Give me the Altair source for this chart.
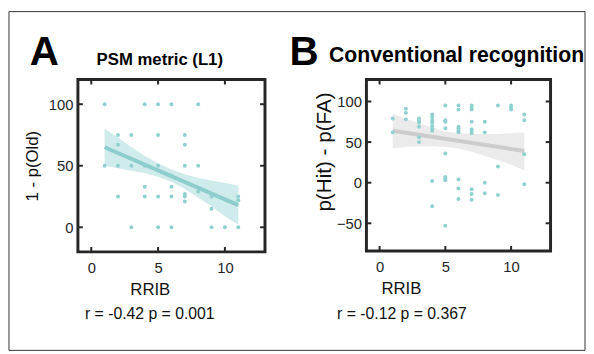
import altair as alt
import pandas as pd

FONT = "Liberation Sans"
DOT = "#8fd1d1"
INK = "#262626"

# ---- Panel A: PSM metric (L1) ----
a_x = [1, 1, 2, 2, 2, 2, 3, 3, 3, 4, 4, 4, 4, 5, 5, 5, 5, 5, 6, 6, 6, 6, 6,
       7, 7, 7, 7, 7, 7, 8, 8, 8, 9, 9, 9, 10, 11, 11, 11]
a_y = [100, 50, 75, 67, 50, 25, 75, 50, 0, 100, 50, 33, 25, 100, 75, 50, 25, 0,
       100, 42, 33, 25, 0, 75, 67, 50, 27, 25, 21, 100, 50, 29, 25, 15, 0, 0,
       25, 22, 0]
a_fit_x = [1, 11]
a_fit_y = [65, 18]
band_x = [1, 2, 3, 4, 5, 6, 7, 8, 9, 10, 11]
a_hi = [80, 73, 65, 58, 52, 47, 43, 40, 38, 36, 34]
a_lo = [50, 48, 46, 44, 41, 37, 31, 24, 17, 9, 2]

# ---- Panel B: Conventional recognition ----
b_x = [1, 1,
       2, 2, 2,
       3, 3, 3, 3, 3, 3,
       4, 4, 4, 4, 4, 4, 4, 4, 4,
       5, 5, 5, 5, 5, 5, 5, 5, 5,
       6, 6, 6, 6, 6, 6, 6, 6, 6,
       7, 7, 7, 7, 7, 7, 7, 7, 7, 7,
       8, 8, 8, 8,
       9, 9, 9,
       10, 10, 10,
       11, 11, 11, 11]
b_y = [79, 62,
       91, 86, 78,
       79, 76, 74, 69, 56, 50,
       84, 81, 77, 74, 70, 67, 64, 2, -29,
       95, 77, 75, 67, 36, 7, 5, 3, -53,
       95, 90, 69, 67, 64, 62, 4, -7, -20,
       95, 92, 90, 75, 66, 64, 61, -8, -14, -21,
       75, 62, 0, -13,
       95, 20, -15,
       95, 92, 90,
       84, 77, 35, -2]
b_fit_x = [1, 11]
b_fit_y = [64, 39]
b_hi = [85, 79, 73, 68, 63, 61, 60, 60, 60, 61, 62]
b_lo = [42, 44, 45, 45, 44, 42, 38, 33, 28, 22, 15]

x_ticks = [0, 5, 10]
a_y_ticks = [0, 50, 100]
b_y_ticks = [-50, 0, 50, 100]


def panel(px, py, fx, fy, lo, hi, xdom, ydom, yt, w, h, band_color, band_op,
          line_color, ytitle, ytitle_size, ytitle_x, ytitle_y, xtitle_x,
          letter, letter_x, title, title_x, title_y, title_size, stats, stats_x,
          frame=False):
    ax_x = alt.Axis(values=x_ticks, domain=False, ticks=False, grid=False,
                    labelFontSize=15, labelPadding=9, labelColor=INK, labelFont=FONT,
                    title="RRIB", titleFontSize=17, titleFontWeight="normal",
                    titleFont=FONT, titleColor="#111", titleX=xtitle_x, titleY=43,
                    titleAlign="center", titleBaseline="alphabetic")
    ax_y = alt.Axis(values=yt, domain=False, ticks=False, grid=False,
                    labelFontSize=15, labelPadding=5, labelColor=INK, labelFont=FONT,
                    title=ytitle, titleFontSize=ytitle_size, titleFontWeight="normal",
                    titleFont=FONT, titleColor="#111", titleX=ytitle_x, titleY=ytitle_y,
                    titleAngle=270, titleAlign="center", titleBaseline="middle")
    sx = alt.Scale(domain=xdom, nice=False, zero=False)
    sy = alt.Scale(domain=ydom, nice=False, zero=False)
    X = alt.X("x:Q", scale=sx, axis=ax_x)
    Y = alt.Y("y:Q", scale=sy, axis=ax_y)

    pts = pd.DataFrame({"x": px, "y": py})
    fit = pd.DataFrame({"x": fx, "y": fy})
    band = pd.DataFrame({"x": band_x, "y": lo, "hi": hi})
    xt = pd.DataFrame({"x": x_ticks})
    ytk = pd.DataFrame({"y": yt})
    one = pd.DataFrame({"d": [0]})

    layers = []
    if frame:
        layers.append(alt.Chart(one).mark_rect(filled=False, stroke="#333", strokeWidth=1).encode(
            x=alt.value(-70), x2=alt.value(515), y=alt.value(-69), y2=alt.value(275)))
    layers += [
        alt.Chart(band).mark_area(color=band_color, opacity=band_op).encode(
            x=X, y=Y, y2="hi:Q"),
        alt.Chart(fit).mark_line(color=line_color, strokeWidth=4).encode(x=X, y=Y),
        alt.Chart(pts).mark_circle(color=DOT, size=16, opacity=1).encode(x=X, y=Y),
        alt.Chart(xt).mark_rule(color=INK, strokeWidth=2).encode(
            x=X, y=alt.value(h), y2=alt.value(h - 5)),
        alt.Chart(xt).mark_rule(color=INK, strokeWidth=2).encode(
            x=X, y=alt.value(0), y2=alt.value(5)),
        alt.Chart(ytk).mark_rule(color=INK, strokeWidth=2).encode(
            y=Y, x=alt.value(0), x2=alt.value(5)),
        alt.Chart(ytk).mark_rule(color=INK, strokeWidth=2).encode(
            y=Y, x=alt.value(w), x2=alt.value(w - 5)),
        alt.Chart(one).mark_rect(filled=False, stroke=INK, strokeWidth=3).encode(
            x=alt.value(0), x2=alt.value(w), y=alt.value(0), y2=alt.value(h)),
        alt.Chart(one).mark_text(text=letter, fontSize=41, fontWeight="bold", font=FONT,
                                 align="left", baseline="alphabetic", color="#000").encode(
            x=alt.value(letter_x), y=alt.value(-15)),
        alt.Chart(one).mark_text(text=title, fontSize=title_size, fontWeight="bold", font=FONT,
                                 align="left", baseline="alphabetic", color="#000").encode(
            x=alt.value(title_x), y=alt.value(title_y)),
        alt.Chart(one).mark_text(text=stats, fontSize=16, font=FONT,
                                 align="center", baseline="alphabetic", color="#111").encode(
            x=alt.value(stats_x), y=alt.value(243)),
    ]
    return alt.layer(*layers).properties(width=w, height=h)


A = panel(a_x, a_y, a_fit_x, a_fit_y, a_lo, a_hi, [-1, 13], [-20, 120], a_y_ticks,
          190, 175, "#bfe4e4", 0.75, "#8ecdcd", "1 - p(Old)", 17, -46, 87.5, 73,
          "A", -49, "PSM metric (L1)", 19, -15, 17, "r = -0.42 p = 0.001", 73, frame=True)
B = panel(b_x, b_y, b_fit_x, b_fit_y, b_lo, b_hi, [-1, 13], [-84, 127], b_y_ticks,
          187, 174, "#e8e8e8", 0.85, "#cccccc", "p(Hit) - p(FA)", 21, -42, 73, 35,
          "B", -78, "Conventional recognition", -38, -18, 21.5, "r = -0.12 p = 0.367", 36)

chart = alt.hconcat(A, B, spacing=103, bounds="flush").properties(
    padding=0, background="white"
).configure_view(stroke=None).configure(font=FONT)

chart.save("out.html", embed_options={"renderer": "svg", "actions": False})
